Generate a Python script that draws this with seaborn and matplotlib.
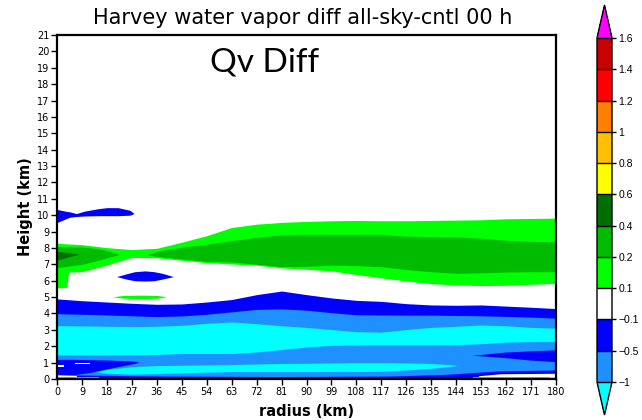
import numpy as np
import matplotlib
matplotlib.use("Agg")
import matplotlib.pyplot as plt
from matplotlib.colors import ListedColormap, BoundaryNorm
import matplotlib.cm as cm
import seaborn as sns

# ---------------- data ----------------
levels = [-1, -0.5, -0.1, 0.1, 0.2, 0.4, 0.6, 0.8, 1, 1.2, 1.4, 1.6]
level_labels = ["\u22121", "\u22120.5", "\u22120.1", "0.1", "0.2", "0.4", "0.6",
                "0.8", "1", "1.2", "1.4", "1.6"]
band_colors = ["#1E90FF", "#0000FF", "#FFFFFF", "#00FF00", "#00BB00", "#006E00",
               "#FFFF00", "#FFC000", "#FF8000", "#FF0000", "#C80000"]
under_color = "#00FFFF"
over_color = "#FF00FF"

# representative value of each filled region
v_cyan, v_dodger, v_blue, v_white = -1.2, -0.7, -0.3, 0.0
v_lime, v_green, v_dark = 0.15, 0.3, 0.5

x_cols = [0, 9, 18, 27, 36, 45, 54, 63, 72, 81, 90, 99, 108, 117, 126, 135, 144, 153, 162, 171, 180]
blue_top = [4.89, 4.78, 4.70, 4.62, 4.56, 4.58, 4.70, 4.85, 5.15, 5.37, 5.15, 4.95, 4.80, 4.74, 4.60, 4.52, 4.50, 4.52, 4.45, 4.38, 4.30]
dodger_top = [3.99, 3.95, 3.91, 3.86, 3.81, 3.85, 3.95, 4.10, 4.25, 4.28, 4.20, 4.05, 3.92, 3.91, 3.90, 3.90, 3.88, 3.86, 3.82, 3.78, 3.71]
cyan_top = [3.26, 3.24, 3.22, 3.20, 3.22, 3.28, 3.40, 3.48, 3.38, 3.25, 3.15, 3.02, 2.89, 2.86, 3.02, 3.15, 3.22, 3.30, 3.25, 3.15, 3.10]
cyan_bot = [1.47, 1.47, 1.47, 1.47, 1.50, 1.55, 1.55, 1.55, 1.65, 1.80, 1.95, 2.05, 2.08, 2.08, 2.08, 2.08, 2.10, 2.15, 2.25, 2.28, 2.28]
lime_top = [8.28, 8.20, 8.02, 7.90, 7.98, 8.35, 8.75, 9.25, 9.45, 9.56, 9.62, 9.66, 9.68, 9.66, 9.66, 9.68, 9.70, 9.72, 9.78, 9.80, 9.82]
lime_bot = [6.50, 6.55, 6.95, 7.42, 7.40, 7.25, 7.10, 7.02, 6.95, 6.78, 6.70, 6.60, 6.38, 6.17, 5.98, 5.82, 5.74, 5.70, 5.72, 5.78, 5.84]

green1_x = [0, 9, 15, 19, 22.5]
green1_top = [8.08, 8.06, 7.95, 7.80, 7.60]
green1_bot = [6.80, 7.00, 7.25, 7.45, 7.60]
green2_x = [33, 36, 45, 54, 63, 72, 81, 90, 99, 108, 117, 126, 135, 144, 153, 162, 171, 180]
green2_top = [7.62, 7.80, 8.05, 8.22, 8.45, 8.65, 8.80, 8.83, 8.83, 8.83, 8.83, 8.72, 8.69, 8.68, 8.60, 8.47, 8.40, 8.38]
green2_bot = [7.58, 7.48, 7.33, 7.18, 7.15, 7.00, 6.86, 6.88, 6.95, 6.92, 6.86, 6.68, 6.55, 6.45, 6.48, 6.53, 6.55, 6.55]

dark_x = [0, 4, 7.7]
dark_top = [7.80, 7.72, 7.62]
dark_bot = [7.25, 7.45, 7.60]

lime_patch_x = [0, 3.5, 4.2]
lime_patch_lo = [5.55, 5.60, 6.50]
lime_patch_hi = [6.60, 6.60, 6.55]

upper_blob_x = [0, 2.9, 4.7, 7, 10, 15, 18, 22, 26.3, 27.8]
upper_blob_top = [10.35, 10.25, 10.20, 10.10, 10.25, 10.40, 10.46, 10.46, 10.30, 10.10]
upper_blob_bot = [9.55, 9.76, 9.88, 9.92, 9.95, 9.97, 9.97, 9.97, 10.00, 10.10]

mid_blob_x = [21.5, 25, 28, 31.8, 35, 38, 42]
mid_blob_top = [6.25, 6.42, 6.55, 6.60, 6.55, 6.45, 6.25]
mid_blob_bot = [6.25, 6.10, 6.00, 5.98, 6.00, 6.10, 6.25]

sliver_x = [20, 24, 30, 36, 39.6]
sliver_top = [5.02, 5.10, 5.12, 5.10, 5.02]
sliver_bot = [5.02, 4.93, 4.90, 4.93, 5.02]

low_cyan_x = [14, 18, 27, 36, 45, 54, 63, 72, 81, 90, 99, 108, 117, 126, 135, 141, 144.5]
low_cyan_top = [0.45, 0.60, 0.75, 0.82, 0.84, 0.86, 0.88, 0.92, 0.95, 0.96, 0.98, 1.00, 1.00, 0.98, 0.95, 0.88, 0.82]
low_cyan_bot = [0.45, 0.35, 0.30, 0.33, 0.38, 0.42, 0.45, 0.45, 0.45, 0.45, 0.45, 0.45, 0.47, 0.55, 0.65, 0.75, 0.82]

low_blob_x = [0, 6, 12, 18, 24, 28, 29.5]
low_blob_top = [1.20, 1.20, 1.18, 1.16, 1.12, 1.08, 1.04]
low_blob_bot = [0.26, 0.26, 0.40, 0.62, 0.82, 0.95, 1.04]

white_dash1_x = [0, 2.5]
white_dash1_lo = [0.74, 0.74]
white_dash1_hi = [0.86, 0.86]
white_dash2_x = [6.5, 11.8]
white_dash2_lo = [0.90, 0.90]
white_dash2_hi = [0.98, 0.98]

wedge_x = [150, 162, 171, 180]
wedge_top = [1.45, 1.65, 1.72, 1.78]
wedge_bot = [1.45, 1.30, 1.15, 1.06]

surf_blue_x = [0, 40, 80, 120, 140, 160, 180]
surf_blue_top = [0.26, 0.18, 0.15, 0.18, 0.28, 0.50, 0.55]

surf_white_left_x = [0, 7]
surf_white_left_hi = [0.26, 0.22]
surf_green_left_x = [0, 15]
surf_white_right_x = [152, 160, 180]
surf_white_right_hi = [0.20, 0.32, 0.35]
surf_green_right_x = [150, 178]

x_ticks = list(range(0, 181, 9))
y_ticks = list(range(0, 22))

# ---------------- drawing ----------------
sns.set_theme(style="ticks")
plt.rcParams["font.family"] = ["DejaVu Sans"]
plt.rcParams.update({"text.color": "black", "axes.labelcolor": "black",
                     "xtick.color": "black", "ytick.color": "black",
                     "axes.edgecolor": "black"})

cmap = ListedColormap(band_colors)
cmap.set_under(under_color)
cmap.set_over(over_color)
norm = BoundaryNorm(levels, cmap.N)


def col(v):
    return cmap(norm(v))


fig = plt.figure(figsize=(6.42, 4.20), dpi=100)
ax = fig.add_axes([57 / 642, 41 / 420, 499 / 642, 344 / 420])
ax.set_facecolor("white")


def band(xs, lo, hi, v, z):
    ax.fill_between(xs, lo, hi, color=col(v), lw=0, zorder=z)


band(x_cols, 0, blue_top, v_blue, 1)
band(x_cols, 0, dodger_top, v_dodger, 2)
band(x_cols, cyan_bot, cyan_top, v_cyan, 3)
band(surf_blue_x, 0, surf_blue_top, v_blue, 4)
band(low_cyan_x, low_cyan_bot, low_cyan_top, v_cyan, 5)
band(low_blob_x, low_blob_bot, low_blob_top, v_blue, 6)
band(white_dash1_x, white_dash1_lo, white_dash1_hi, v_white, 7)
band(white_dash2_x, white_dash2_lo, white_dash2_hi, v_white, 7)
band(wedge_x, wedge_bot, wedge_top, v_blue, 6)
band(surf_white_left_x, 0.1, surf_white_left_hi, v_white, 7)
band(surf_green_left_x, 0, 0.1, v_lime, 8)
band(surf_white_right_x, 0.1, surf_white_right_hi, v_white, 7)
band(surf_green_right_x, 0, 0.1, v_lime, 8)
band(x_cols, lime_bot, lime_top, v_lime, 3)
band(lime_patch_x, lime_patch_lo, lime_patch_hi, v_lime, 3)
band(green1_x, green1_bot, green1_top, v_green, 4)
band(green2_x, green2_bot, green2_top, v_green, 4)
band(dark_x, dark_bot, dark_top, v_dark, 5)
band(upper_blob_x, upper_blob_bot, upper_blob_top, v_blue, 5)
band(mid_blob_x, mid_blob_bot, mid_blob_top, v_blue, 5)
band(sliver_x, sliver_bot, sliver_top, v_lime, 5)

ax.set_xlim(0, 180)
ax.set_ylim(0, 21)
ax.set_xticks(x_ticks)
ax.set_yticks(y_ticks)
ax.tick_params(direction="out", length=4, width=1, labelsize=7, pad=1.5,
               colors="black", left=True, bottom=True)
for s in ax.spines.values():
    s.set_linewidth(1.6)
    s.set_color("black")
    s.set_zorder(20)
ax.grid(False)

ax.set_xlabel("radius (km)", fontsize=10.5, fontweight="bold", labelpad=5)
ax.set_ylabel("Height (km)", fontsize=10.5, fontweight="bold", labelpad=3)
fig.text(303 / 642, 1 - 18 / 420, "Harvey water vapor diff all-sky-cntl 00 h",
         ha="center", va="center", fontsize=15)
fig.text(265 / 642, 1 - 62 / 420, "Qv Diff", ha="center", va="center",
         fontsize=24, family="Lato", color="black")

# ---------------- colorbar ----------------
cax = fig.add_axes([597 / 642, 5 / 420, 15 / 642, 410 / 420])
sm = cm.ScalarMappable(norm=norm, cmap=cmap)
cb = fig.colorbar(sm, cax=cax, extend="both", extendfrac=0.096,
                  spacing="uniform", ticks=levels, drawedges=True)
cb.ax.set_yticklabels(level_labels, family=["Liberation Sans", "DejaVu Sans"])
cb.ax.tick_params(labelsize=7.5, length=3, width=1, direction="out", pad=1.5,
                  right=True, left=False, colors="black")
cb.outline.set_linewidth(1)
cb.outline.set_edgecolor("black")
cb.dividers.set_linewidth(1)
cb.dividers.set_color("black")

fig.savefig("out.png", dpi=100)
